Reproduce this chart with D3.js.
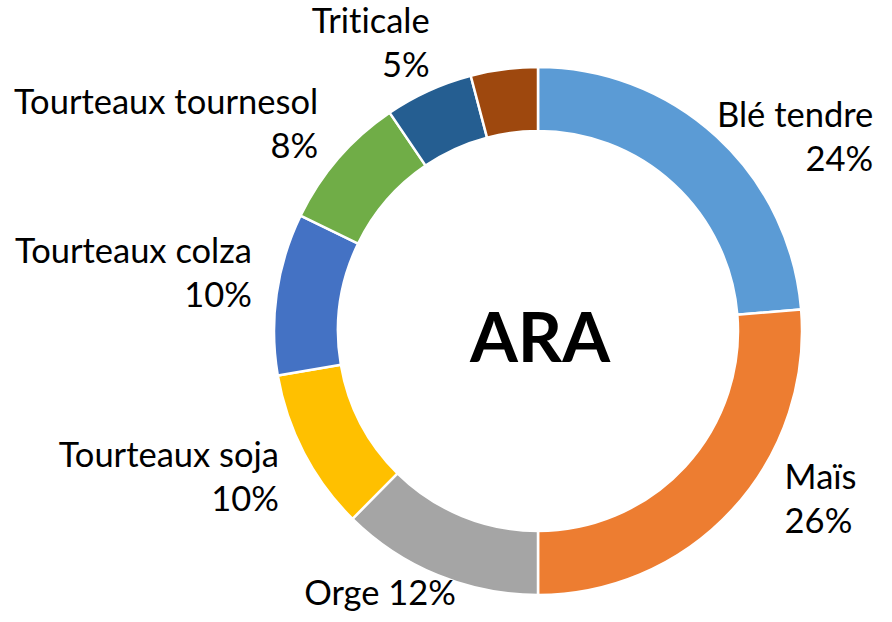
<!DOCTYPE html>
<html>
<head>
<meta charset="utf-8">
<script src="https://cdn.jsdelivr.net/npm/d3@7"></script>
<style>
  html, body { margin: 0; padding: 0; background: #fff; }
  svg { display: block; }
  text { font-family: "Lato", "Noto Sans", sans-serif; fill: #000; font-variant-ligatures: none; font-feature-settings: "liga" 0, "clig" 0; }
</style>
</head>
<body>
<svg id="chart" width="892" height="622"></svg>
<script>
// ---- data ----
const categories = ["Blé tendre", "Maïs", "Orge", "Tourteaux soja", "Tourteaux colza", "Tourteaux tournesol", "Triticale", "Autres"];
const shares = [23.7, 26.3, 12.4, 9.9, 9.9, 8.3, 5.4, 4.1];
const shownLabels = ["24%", "26%", "12%", "10%", "10%", "8%", "5%", null];
const centerTitle = "ARA";

// ---- styling / layout ----
const colors = ["#5B9BD5", "#ED7D31", "#A5A5A5", "#FFC000", "#4472C4", "#70AD47", "#255E91", "#9E480E"];
const W = 892, H = 622;
const cx = 538, cy = 331;
const outerR = 264, innerR = 200, labelR = 300;
const fontSize = 34.5, lineGap = 44;
// label layout: alignment and small nudges from the computed anchor
const labelAlign = ["end", "start", "middle", "end", "end", "end", "end", null];
const labelNudge = [[132, 27], [26, -35], [-44, -15], [7, 8], [11, -15], [7, -10], [16, -14], null];
const singleLine = [false, false, true, false, false, false, false, false];

const svg = d3.select("#chart");
const g = svg.append("g").attr("transform", `translate(${cx},${cy})`);

const data = categories.map((c, i) => ({ name: c, value: shares[i], label: shownLabels[i], i }));

const pie = d3.pie().value(d => d.value).sort(null);
const arc = d3.arc().innerRadius(innerR).outerRadius(outerR);
const labelArc = d3.arc().innerRadius(labelR).outerRadius(labelR);

const arcs = pie(data);

g.selectAll("path.slice")
  .data(arcs)
  .join("path")
  .attr("class", "slice")
  .attr("d", arc)
  .attr("fill", d => colors[d.data.i])
  .attr("stroke", "#fff")
  .attr("stroke-width", 2.5)
  .attr("stroke-linejoin", "miter");

// labels
g.selectAll("text.lbl")
  .data(arcs.filter(d => d.data.label))
  .join("text")
  .attr("class", "lbl")
  .attr("font-size", fontSize)
  .attr("text-anchor", d => labelAlign[d.data.i])
  .each(function(d) {
    const [bx, by] = labelArc.centroid(d);
    const [nx, ny] = labelNudge[d.data.i];
    const x = bx + nx, yc = by + ny;
    const t = d3.select(this);
    if (singleLine[d.data.i]) {
      t.append("tspan").attr("x", x).attr("y", yc + 11.5).text(d.data.name + " " + d.data.label);
    } else {
      t.append("tspan").attr("x", x).attr("y", yc - 10.5).text(d.data.name);
      t.append("tspan").attr("x", x).attr("y", yc - 10.5 + lineGap).text(d.data.label);
    }
  });

// center title
g.append("text")
  .attr("x", 2)
  .attr("y", 31)
  .attr("text-anchor", "middle")
  .attr("font-size", 69)
  .attr("font-weight", "bold")
  .text(centerTitle);
</script>
</body>
</html>
